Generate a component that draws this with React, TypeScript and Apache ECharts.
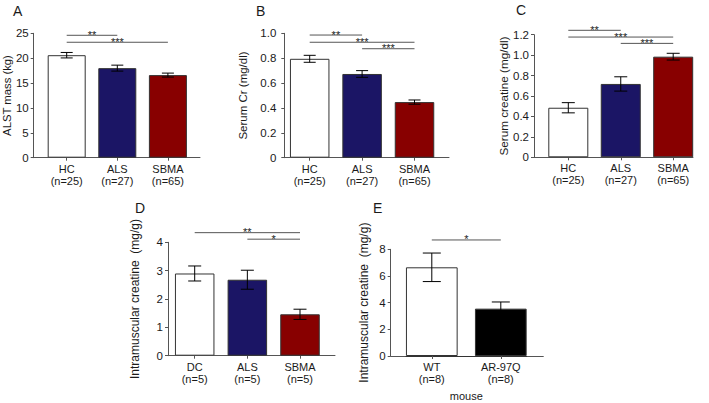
import React, { useEffect, useRef } from "react";
import * as echarts from "echarts";

// ---------- data ----------
const catsA = ["HC\n(n=25)", "ALS\n(n=27)", "SBMA\n(n=65)"];
const meanA = [20.6, 18.0, 16.6];
const semA = [0.55, 0.6, 0.4];
const sigA: [number, number, number, string][] = [
  [0, 0.96, 24.6, "**"],
  [0, 2, 23.2, "***"],
];

const catsB = ["HC\n(n=25)", "ALS\n(n=27)", "SBMA\n(n=65)"];
const meanB = [0.795, 0.673, 0.447];
const semB = [0.028, 0.027, 0.017];
const sigB: [number, number, number, string][] = [
  [0, 0.98, 0.986, "**"],
  [0, 2, 0.928, "***"],
  [0.98, 2, 0.876, "***"],
];

const catsC = ["HC\n(n=25)", "ALS\n(n=27)", "SBMA\n(n=65)"];
const meanC = [0.485, 0.718, 0.985];
const semC = [0.05, 0.07, 0.033];
const sigC: [number, number, number, string][] = [
  [0, 1, 1.243, "**"],
  [0, 1.98, 1.177, "***"],
  [1, 1.98, 1.115, "***"],
];

const catsD = ["DC\n(n=5)", "ALS\n(n=5)", "SBMA\n(n=5)"];
const meanD = [2.9, 2.68, 1.46];
const semD = [0.265, 0.335, 0.18];
const sigD: [number, number, number, string][] = [
  [0, 1.92, 4.34, "**"],
  [0.96, 1.92, 4.11, "*"],
];

const catsE = ["WT\n(n=8)", "AR-97Q\n(n=8)"];
const meanE = [6.65, 3.55];
const semE = [1.07, 0.5];
const sigE: [number, number, number, string][] = [[0, 1.03, 8.7, "*"]];

const humanColors = ["#ffffff", "#1b1565", "#880000"];
const mouseColors = ["#ffffff", "#000000"];

// ---------- layout / style ----------
const FONT = "'Liberation Sans', Arial, Helvetica, sans-serif";
const AXIS = "#555";
const TEXT = "#1a1a1a";

const fmtInt = (v: number) => String(Math.round(v));
const fmt1 = (v: number) => (Math.abs(v) < 1e-9 ? "0" : v.toFixed(1));

const panels = [
  {
    letter: "A", cats: catsA, mean: meanA, sem: semA, sig: sigA, yMax: 25, yStep: 5,
    name: "ALST mass (kg)", colors: humanColors, fmt: fmtInt,
    L: { axisX: 32.3, top: 33.3, bottom: 157.7, xEnd: 200, c0: 66.7, step: 50.6, barW: 38, cap: 6, lm: 5, ng: 19.5, nf: 11.3, tx: 13, ty: 4 },
  },
  {
    letter: "B", cats: catsB, mean: meanB, sem: semB, sig: sigB, yMax: 1.0, yStep: 0.2,
    name: "Serum Cr (mg/dl)", colors: humanColors, fmt: fmt1,
    L: { axisX: 284.3, top: 33.3, bottom: 157.7, xEnd: 449, c0: 309.7, step: 52.4, barW: 39.5, cap: 6, lm: 8, ng: 35.5, nf: 11.5, tx: 256, ty: 4 },
  },
  {
    letter: "C", cats: catsC, mean: meanC, sem: semC, sig: sigC, yMax: 1.2, yStep: 0.2,
    name: "Serum creatine (mg/dl)", colors: humanColors, fmt: fmt1,
    L: { axisX: 534, top: 34.7, bottom: 157.3, xEnd: 693, c0: 568.3, step: 52.45, barW: 40, cap: 6.5, lm: 5, ng: 24.5, nf: 11.7, tx: 516, ty: 3.2 },
  },
  {
    letter: "D", cats: catsD, mean: meanD, sem: semD, sig: sigD, yMax: 4, yStep: 1,
    name: "Intramuscular creatine  (mg/g)", colors: humanColors, fmt: fmtInt,
    L: { axisX: 168, top: 242.3, bottom: 355.7, xEnd: 335, c0: 194.7, step: 52.65, barW: 39.5, cap: 6.5, lm: 5, ng: 27.5, nf: 12, tx: 135, ty: 201 },
  },
  {
    letter: "E", cats: catsE, mean: meanE, sem: semE, sig: sigE, yMax: 8, yStep: 2,
    name: "Intramuscular creatine  (mg/g)", colors: mouseColors, fmt: fmtInt,
    L: { axisX: 390.7, top: 249.3, bottom: 356, xEnd: 543.3, c0: 431.8, step: 69, barW: 51.7, cap: 9, lm: 5, ng: 20.5, nf: 12, tx: 373, ty: 201 },
  },
];

const mouseLine = { left: 406, right: 526.7, offset: 33.3, label: "mouse" };

function buildOption() {
  const grid: any[] = [];
  const xAxis: any[] = [];
  const yAxis: any[] = [];
  const series: any[] = [];
  const title: any[] = [];

  panels.forEach((p, k) => {
    const L = p.L;
    const h = L.bottom - L.top;
    const n = p.cats.length;
    const gA = grid.length;
    grid.push({ left: L.axisX, top: L.top, width: L.xEnd - L.axisX, height: h, containLabel: false });
    const gB = grid.length;
    grid.push({ left: L.c0 - L.step / 2, top: L.top, width: L.step * n, height: h, containLabel: false });

    title.push({
      text: p.letter, left: L.tx, top: L.ty, padding: 0,
      textStyle: { fontSize: 14, fontWeight: "normal", color: TEXT, fontFamily: FONT },
    });

    xAxis.push({
      gridIndex: gA, type: "value", min: 0, max: 1,
      axisLine: { show: true, lineStyle: { color: AXIS, width: 1 } },
      axisTick: { show: false }, axisLabel: { show: false }, splitLine: { show: false },
    });
    xAxis.push({
      gridIndex: gB, type: "category", data: p.cats, boundaryGap: true,
      axisLine: { show: false },
      axisTick: { show: true, alignWithLabel: true, length: 3, lineStyle: { color: AXIS } },
      axisLabel: { color: TEXT, fontSize: 11, lineHeight: 12, margin: 5, fontFamily: FONT, interval: 0 },
      splitLine: { show: false },
    });
    yAxis.push({
      gridIndex: gA, type: "value", min: 0, max: p.yMax, interval: p.yStep,
      axisLine: { show: true, lineStyle: { color: AXIS, width: 1 } },
      axisTick: { show: true, length: 3, lineStyle: { color: AXIS } },
      axisLabel: { color: TEXT, fontSize: 11.5, margin: L.lm, fontFamily: FONT, formatter: p.fmt },
      splitLine: { show: false },
      name: p.name, nameLocation: "middle", nameGap: L.ng,
      nameTextStyle: { color: TEXT, fontSize: L.nf, fontFamily: FONT },
    });
    yAxis.push({ gridIndex: gB, type: "value", min: 0, max: p.yMax, show: false });

    series.push({
      type: "bar", xAxisIndex: k * 2 + 1, yAxisIndex: k * 2 + 1,
      barWidth: L.barW,
      data: p.mean.map((v, i) => ({ value: v, itemStyle: { color: p.colors[i] } })),
      itemStyle: { borderColor: "#333", borderWidth: 1 },
      z: 2,
    });
    const sem = p.sem;
    series.push({
      type: "custom", xAxisIndex: k * 2 + 1, yAxisIndex: k * 2 + 1, z: 5,
      itemStyle: { color: "#000" },
      data: p.mean.map((m, i) => [i, m, sem[i]]),
      encode: { x: 0, y: 1 },
      renderItem: (_params: any, api: any) => {
        const x = api.value(0);
        const m = api.value(1);
        const s = api.value(2);
        const t = api.coord([x, m + s]);
        const b = api.coord([x, m - s]);
        const st = { stroke: "#000", lineWidth: 1 };
        return {
          type: "group",
          children: [
            { type: "line", shape: { x1: t[0], y1: t[1], x2: b[0], y2: b[1] }, style: st },
            { type: "line", shape: { x1: t[0] - L.cap, y1: t[1], x2: t[0] + L.cap, y2: t[1] }, style: st },
            { type: "line", shape: { x1: b[0] - L.cap, y1: b[1], x2: b[0] + L.cap, y2: b[1] }, style: st },
          ],
        };
      },
    });
    const sig = p.sig;
    series.push({
      type: "custom", xAxisIndex: k * 2 + 1, yAxisIndex: k * 2 + 1, z: 6, clip: false,
      itemStyle: { color: TEXT },
      data: sig.map((s) => [s[0], s[1], s[2]]),
      encode: { x: [0, 1], y: 2 },
      renderItem: (params: any, api: any) => {
        const a = api.coord([api.value(0), api.value(2)]);
        const b = api.coord([api.value(1), api.value(2)]);
        const label = sig[params.dataIndex][3];
        return {
          type: "group",
          children: [
            { type: "line", shape: { x1: a[0], y1: a[1], x2: b[0], y2: a[1] }, style: { stroke: AXIS, lineWidth: 1 } },
            {
              type: "text",
              style: {
                text: label, x: (a[0] + b[0]) / 2, y: a[1] - 0.5,
                align: "center", verticalAlign: "middle",
                fontSize: 11, fontFamily: FONT, fill: TEXT,
              },
            },
          ],
        };
      },
    });
  });

  // "mouse" group line under panel E
  const E = panels[4].L;
  const gM = grid.length;
  grid.push({ left: mouseLine.left, top: E.top, width: mouseLine.right - mouseLine.left, height: E.bottom - E.top, containLabel: false });
  xAxis.push({
    gridIndex: gM, type: "value", min: 0, max: 1, offset: mouseLine.offset,
    axisLine: { show: true, lineStyle: { color: "#333", width: 1 } },
    axisTick: { show: false }, axisLabel: { show: false }, splitLine: { show: false },
    name: mouseLine.label, nameLocation: "middle", nameGap: 1,
    nameTextStyle: { color: TEXT, fontSize: 11, fontFamily: FONT },
  });
  yAxis.push({ gridIndex: gM, type: "value", min: 0, max: 1, show: false });

  return {
    animation: false,
    backgroundColor: "#ffffff",
    textStyle: { fontFamily: FONT },
    title,
    grid,
    xAxis,
    yAxis,
    series,
  };
}

export default function App() {
  const ref = useRef<HTMLDivElement | null>(null);
  useEffect(() => {
    if (!ref.current) return;
    const chart = echarts.init(ref.current, undefined, { renderer: "svg" });
    chart.setOption(buildOption() as any);
    return () => chart.dispose();
  }, []);
  return (
    <div
      ref={ref}
      style={{ position: "fixed", left: 0, top: 0, width: 709, height: 403, background: "#fff" }}
    />
  );
}
